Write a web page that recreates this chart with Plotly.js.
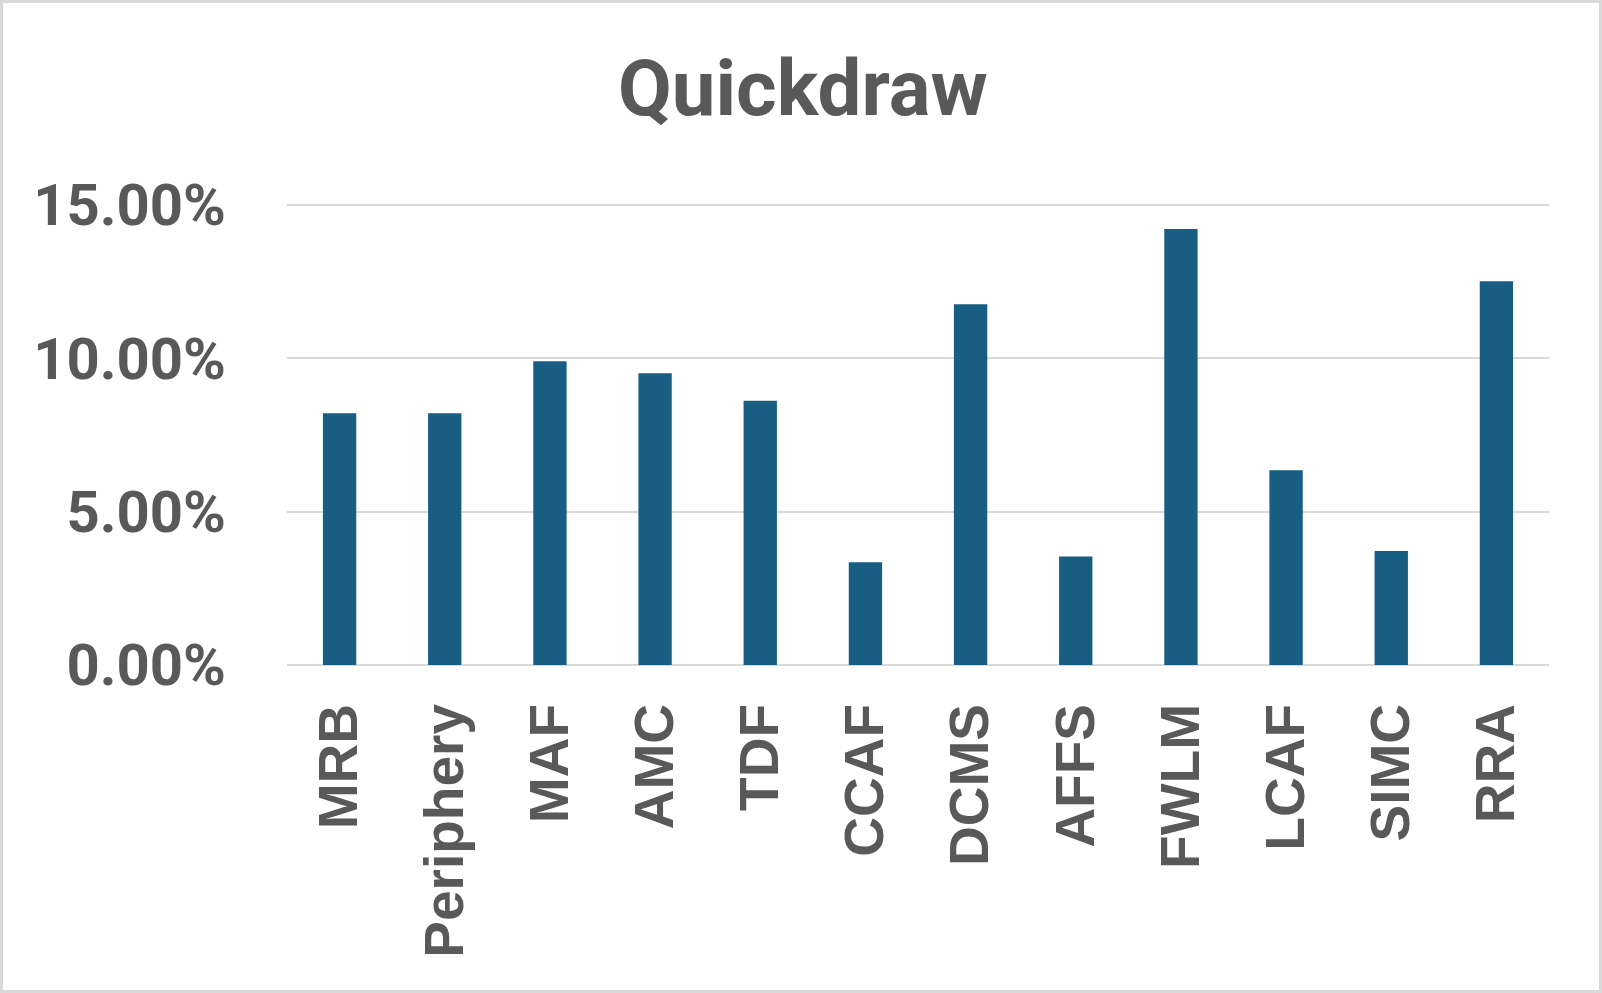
<!DOCTYPE html>
<html>
<head>
<meta charset="utf-8">
<script src="https://cdn.plot.ly/plotly-3.0.1.min.js"></script>
<style>
  html, body { margin: 0; padding: 0; background: #ffffff; }
  #wrap { position: relative; width: 1602px; height: 993px; }
  #chart { position: absolute; left: 0; top: 0; width: 1602px; height: 993px; }
  #frame { position: absolute; left: 0; top: 0; width: 1602px; height: 993px; box-sizing: border-box; border: 3px solid #d9d9d9; pointer-events: none; }
</style>
</head>
<body>
<div id="wrap">
  <div id="chart"></div>
  <div id="frame"></div>
</div>
<script>
const categories = ["MRB", "Periphery", "MAF", "AMC", "TDF", "CCAF", "DCMS", "AFFS", "FWLM", "LCAF", "SIMC", "RRA"];
const values = [0.0821, 0.0821, 0.0990, 0.0951, 0.0861, 0.0335, 0.1176, 0.0354, 0.1421, 0.0635, 0.0372, 0.1251];
const yTickValues = [0, 0.05, 0.10, 0.15];
const yTickLabels = ["0.00%", "5.00%", "10.00%", "15.00%"];
const chartTitle = "Quickdraw";

const trace = {
  type: "bar",
  x: categories,
  y: values,
  marker: { color: "#175E82", line: { width: 0 } },
  hoverinfo: "x+y"
};

const layout = {
  width: 1602,
  height: 993,
  paper_bgcolor: "#ffffff",
  plot_bgcolor: "#ffffff",
  margin: { l: 287, r: 53, t: 203, b: 328, pad: 0 },
  showlegend: false,
  bargap: 0.683,
  title: {
    text: chartTitle,
    font: { family: "Roboto, Arial, sans-serif", size: 78, color: "#595959", weight: "bold" },
    x: 0.5012, xref: "container", xanchor: "center",
    y: 1 - 88 / 993, yref: "container", yanchor: "middle"
  },
  xaxis: {
    type: "category",
    tickangle: -90,
    tickfont: { family: "Arial, 'Liberation Sans', sans-serif", size: 55, color: "#595959", weight: "bold" },
    ticks: "",
    ticklabelstandoff: 27,
    showgrid: false,
    showline: false,
    zeroline: false,
    fixedrange: true
  },
  yaxis: {
    range: [0, 0.1506],
    tickvals: yTickValues,
    ticktext: yTickLabels,
    tickfont: { family: "Roboto, Arial, sans-serif", size: 58, color: "#595959", weight: "bold" },
    ticks: "",
    ticklabelstandoff: 60,
    showgrid: true,
    gridcolor: "#d9d9d9",
    gridwidth: 2,
    zeroline: true,
    zerolinecolor: "#d9d9d9",
    zerolinewidth: 2,
    showline: false,
    fixedrange: true
  }
};

Plotly.newPlot("chart", [trace], layout, { displayModeBar: false, staticPlot: true });
</script>
</body>
</html>
